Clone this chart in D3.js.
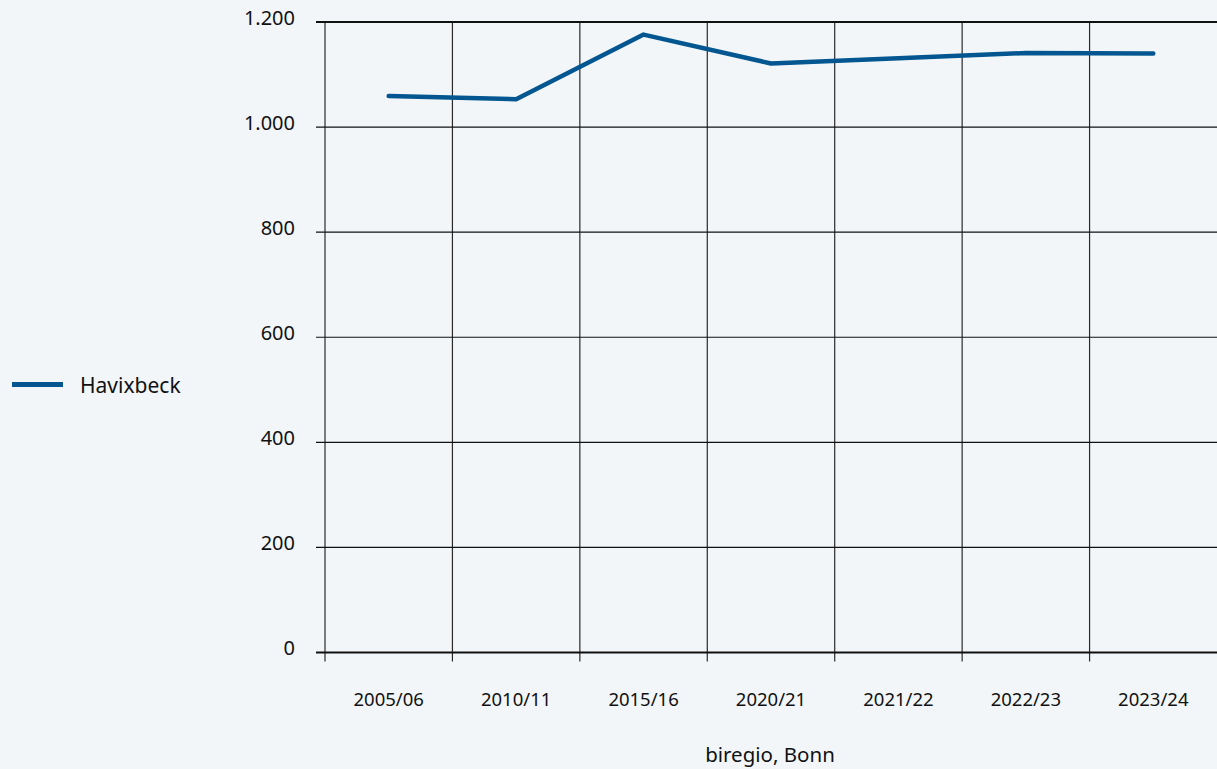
<!DOCTYPE html>
<html>
<head>
<meta charset="utf-8">
<script src="https://cdn.jsdelivr.net/npm/d3@7"></script>
<style>
  html, body { margin: 0; padding: 0; background: #f2f6f9; }
  svg { display: block; font-family: "Noto Sans", "DejaVu Sans", sans-serif; font-weight: 400; }
</style>
</head>
<body>
<svg id="chart" width="1217" height="769"></svg>
<script>
// School years shown on the x axis
const categories = ["2005/06", "2010/11", "2015/16", "2020/21", "2021/22", "2022/23", "2023/24"];
// Havixbeck series values
const seriesName = "Havixbeck";
const values = [1059, 1053, 1176, 1121, 1131, 1141, 1140];
// Y axis ticks
const yTicks = [0, 200, 400, 600, 800, 1000, 1200];
const sourceText = "biregio, Bonn";

const svg = d3.select("#chart");
const W = 1217, H = 769;
const plotLeft = 325, plotRight = 1217, plotTop = 22, plotBottom = 652.5;
const lineColor = "#03568f";

const x = d3.scaleBand().domain(categories).range([plotLeft, plotRight]);
const y = d3.scaleLinear().domain([0, 1200]).range([plotBottom, plotTop]);

svg.append("rect").attr("width", W).attr("height", H).attr("fill", "#f2f6f9");

// Vertical grid lines at band edges, extending slightly below the axis
const edges = categories.map(c => x(c));
svg.append("g").selectAll("line").data(edges).join("line")
  .attr("x1", d => d).attr("x2", d => d)
  .attr("y1", plotTop).attr("y2", plotBottom + 9)
  .attr("stroke", "#2a2a2a").attr("stroke-width", 1.2);

// Horizontal grid lines with short ticks on the left
svg.append("g").selectAll("line").data(yTicks).join("line")
  .attr("x1", plotLeft - 9).attr("x2", plotRight)
  .attr("y1", d => y(d)).attr("y2", d => y(d))
  .attr("stroke", "#111")
  .attr("stroke-width", d => (d === 0 || d === 1200) ? 2 : 1.1);

// Y axis labels
const fmt = d3.formatLocale({ decimal: ",", thousands: ".", grouping: [3], currency: ["", "€"] }).format(",d");
svg.append("g").selectAll("text").data(yTicks).join("text")
  .attr("x", 295).attr("y", d => y(d) + 2.5)
  .attr("text-anchor", "end")
  .attr("font-size", 20)
  .attr("fill", "#111")
  .text(d => fmt(d));

// X axis labels centred in each band
svg.append("g").selectAll("text").data(categories).join("text")
  .attr("x", d => x(d) + x.bandwidth() / 2)
  .attr("y", 706)
  .attr("text-anchor", "middle")
  .attr("font-size", 18.5)
  .attr("fill", "#111")
  .text(d => d);

// Data line
const line = d3.line()
  .x((d, i) => x(categories[i]) + x.bandwidth() / 2)
  .y(d => y(d));
svg.append("path")
  .datum(values)
  .attr("d", line)
  .attr("fill", "none")
  .attr("stroke", lineColor)
  .attr("stroke-width", 4.5)
  .attr("stroke-linecap", "round")
  .attr("stroke-linejoin", "round");

// Legend
svg.append("line")
  .attr("x1", 12).attr("x2", 63).attr("y1", 384.5).attr("y2", 384.5)
  .attr("stroke", lineColor).attr("stroke-width", 5);
svg.append("text")
  .attr("x", 80).attr("y", 393)
  .attr("font-size", 21)
  .attr("fill", "#111")
  .text(seriesName);

// Source
svg.append("text")
  .attr("x", 770).attr("y", 762)
  .attr("text-anchor", "middle")
  .attr("font-size", 20.5)
  .attr("fill", "#111")
  .text(sourceText);
</script>
</body>
</html>
